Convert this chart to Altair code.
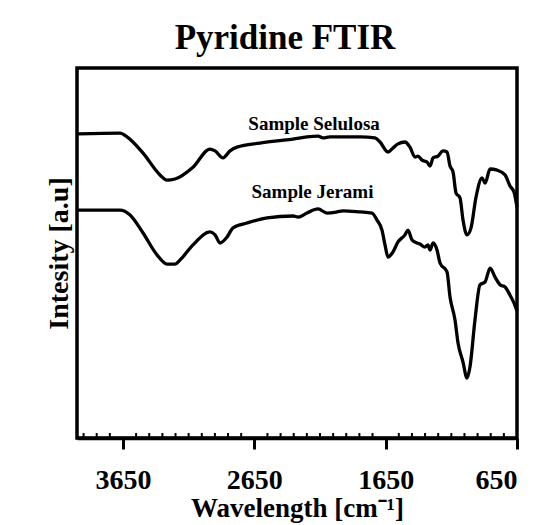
import altair as alt
import pandas as pd

# Wavenumber (cm-1) and intensity (a.u.)
sel_wn = [3992, 3673, 3619, 3497, 3368, 3315, 3254, 3117, 2987, 2949, 2888, 2835, 2782,
          2607, 2477, 2355, 2249, 2165, 2127, 2074, 1975, 1845, 1731, 1693, 1632, 1594,
          1556, 1503, 1465, 1426, 1404, 1373, 1335, 1312, 1289, 1251, 1213, 1183, 1160,
          1137, 1114, 1084, 1061, 1031, 1000, 962, 916, 893, 855, 802, 741, 703, 673, 650]
sel_int = [82.2, 82.4, 81.4, 77.0, 71.1, 69.7, 70.0, 73.2, 78.1, 77.6, 75.7, 77.6, 78.6,
           79.7, 80.3, 80.8, 81.4, 81.6, 81.1, 81.4, 81.4, 81.4, 81.1, 80.0, 77.3, 78.4,
           79.5, 80.0, 78.6, 75.9, 76.2, 75.1, 74.6, 73.5, 75.7, 76.2, 77.6, 77.3, 73.5,
           71.9, 66.2, 64.9, 58.9, 54.9, 56.8, 65.1, 70.3, 68.9, 72.7, 72.4, 71.1, 68.1, 66.5, 62.4]

jer_wn = [3992, 3673, 3596, 3497, 3391, 3315, 3254, 3216, 3117, 2987, 2949, 2911, 2858,
          2812, 2706, 2553, 2355, 2317, 2249, 2165, 2096, 2020, 1975, 1845, 1754, 1716,
          1678, 1655, 1632, 1594, 1556, 1503, 1480, 1449, 1411, 1389, 1351, 1328, 1312,
          1289, 1259, 1236, 1183, 1160, 1122, 1099, 1061, 1031, 1008, 970, 932, 893, 855,
          817, 779, 741, 703, 673, 650]
jer_int = [61.6, 61.6, 60.3, 55.4, 49.5, 47.0, 47.0, 48.1, 52.2, 55.7, 54.9, 52.7, 54.3,
           56.8, 58.1, 59.5, 60.0, 59.7, 60.8, 61.9, 60.8, 61.1, 61.4, 61.1, 60.8, 58.9,
           56.2, 52.2, 48.9, 50.3, 53.0, 54.9, 56.2, 53.5, 52.7, 52.4, 51.6, 52.2, 50.8,
           52.7, 50.8, 47.3, 44.9, 38.1, 31.9, 25.7, 20.5, 16.2, 19.2, 31.9, 41.4, 42.2, 45.9,
           43.5, 41.4, 40.8, 38.6, 36.5, 34.3]

label_text = ["Sample Selulosa", "Sample Jerami"]
label_wn = [2195, 2207]
label_int = [83.2, 64.9]

major_ticks = [3650, 2650, 1650, 650]
minor_ticks = [3950, 3850, 3750, 3550, 3450, 3350, 3250, 3150, 3050, 2950, 2850, 2750,
               2550, 2450, 2350, 2250, 2150, 2050, 1950, 1850, 1750,
               1550, 1450, 1350, 1250, 1150, 1050, 950, 850, 750]

FONT = "Liberation Serif"

df = pd.concat([
    pd.DataFrame({"wn": sel_wn, "intensity": sel_int, "sample": "Selulosa"}),
    pd.DataFrame({"wn": jer_wn, "intensity": jer_int, "sample": "Jerami"}),
])
labels = pd.DataFrame({"text": label_text, "wn": label_wn, "intensity": label_int})
minor = pd.DataFrame({"wn": minor_ticks})

xscale = alt.Scale(domain=[4000, 650], nice=False, zero=False)
yscale = alt.Scale(domain=[0, 100], nice=False, zero=False)

xaxis = alt.Axis(
    values=major_ticks, format="d", title="Wavelength [cm⁻¹]", grid=False,
    labelFont=FONT, labelFontWeight="bold", labelFontSize=28, labelColor="black",
    labelPadding=17, tickSize=11, tickWidth=3, tickColor="black",
    domainColor="black", domainWidth=3.5,
    titleFont=FONT, titleFontWeight="bold", titleFontSize=27, titleColor="black",
    titlePadding=1,
)
yaxis = alt.Axis(
    title="Intesity [a.u]", labels=False, ticks=False, domain=False, grid=False,
    titleFont=FONT, titleFontWeight="bold", titleFontSize=28, titleColor="black",
    titlePadding=4,
)

lines = alt.Chart(df).mark_line(color="black", strokeWidth=3.3, interpolate="monotone").encode(
    x=alt.X("wn:Q", scale=xscale, axis=xaxis),
    y=alt.Y("intensity:Q", scale=yscale, axis=yaxis),
    detail="sample:N",
    order=alt.Order("idx:Q"),
).transform_window(idx="row_number()", groupby=["sample"])

text = alt.Chart(labels).mark_text(
    font=FONT, fontWeight="bold", fontSize=19, color="black", baseline="alphabetic", align="center"
).encode(
    x=alt.X("wn:Q", scale=xscale),
    y=alt.Y("intensity:Q", scale=yscale),
    text="text:N",
)

ticks = alt.Chart(minor).mark_rule(color="black", strokeWidth=2).encode(
    x=alt.X("wn:Q", scale=xscale),
    y=alt.value(370),
    y2=alt.value(365),
)

chart = alt.layer(lines, ticks, text).properties(
    width=440, height=370,
    background="white",
    title=alt.TitleParams("Pyridine FTIR", font=FONT, fontWeight="bold", fontSize=35,
                          color="black", offset=12, dx=-12),
    autosize=alt.AutoSizeParams(type="none"),
    padding={"left": 69, "top": 60, "right": 5, "bottom": 90},
).configure_view(stroke="black", strokeWidth=3.5)

chart.save("out.html", embed_options={"renderer": "svg", "actions": False})
